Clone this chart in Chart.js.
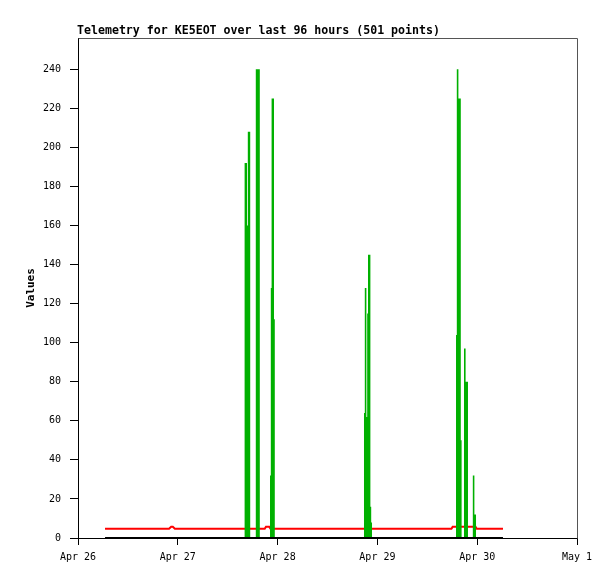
<!DOCTYPE html>
<html>
<head>
<meta charset="utf-8">
<script src="https://cdn.jsdelivr.net/npm/chart.js@4.4.1/dist/chart.umd.min.js"></script>
<style>
html,body{margin:0;padding:0;background:#fff;}
#wrap{width:615px;height:579px;position:relative;}
</style>
</head>
<body>
<div id="wrap"><canvas id="c" width="615" height="579"></canvas></div>
<script>
// Hours since Apr 26 00:00
const tickHours = [0, 24, 48, 72, 96, 120];
const tickLabels = ['Apr 26', 'Apr 27', 'Apr 28', 'Apr 29', 'Apr 30', 'May 1'];
const yTicks = [0, 20, 40, 60, 80, 100, 120, 140, 160, 180, 200, 220, 240];

const redHours  = [6.5, 21.9, 22.4, 22.8, 23.3, 44.9, 45.2, 46.0, 46.3, 89.8, 90.1, 95.6, 95.9, 102.2];
const redValues = [4.7, 4.7, 5.7, 5.7, 4.7, 4.7, 5.7, 5.7, 4.7, 4.7, 5.7, 5.7, 4.7, 4.7];

const blackHours  = [6.5, 102.2];
const blackValues = [0, 0];

const greenHours = [6.5,
  39.97, 40.16, 40.35, 40.55, 40.74, 40.93, 41.12, 41.32, 41.51,
  42.66, 42.85, 43.05, 43.24, 43.43, 43.62, 43.82,
  46.08, 46.27, 46.46, 46.65, 46.85, 47.04, 47.23, 47.42,
  68.68, 68.87, 69.07, 69.26, 69.45, 69.64, 69.84, 70.03, 70.22, 70.41, 70.61, 70.80,
  90.81, 91.00, 91.19, 91.38, 91.58, 91.77, 91.96, 92.15, 92.35,
  92.73, 92.92, 93.11, 93.31, 93.50, 93.69, 93.88,
  94.85, 95.04, 95.23, 95.42, 95.62, 95.81,
  102.2];
const greenValues = [0,
  0, 192, 192, 192, 160, 208, 208, 208, 0,
  0, 240, 240, 240, 240, 240, 0,
  0, 32, 128, 225, 225, 225, 112, 0,
  0, 64, 128, 128, 62, 115, 145, 145, 145, 16, 8, 0,
  0, 104, 240, 240, 225, 225, 225, 50, 0,
  0, 97, 97, 80, 80, 80, 0,
  0, 32, 32, 12, 12, 0,
  0];

const TITLE = 'Telemetry for KE5EOT over last 96 hours (501 points)';
const Y_TITLE = 'Values';

function pts(xs, ys) { return xs.map((x, i) => ({x: x, y: ys[i]})); }

const frame = {
  id: 'frame',
  afterDraw(chart) {
    const {ctx, chartArea: a} = chart;
    ctx.save();
    ctx.strokeStyle = '#555555';
    ctx.lineWidth = 1;
    ctx.beginPath();
    ctx.moveTo(Math.round(a.left) + 0.5, Math.round(a.top) + 0.5);
    ctx.lineTo(Math.round(a.right) + 0.5, Math.round(a.top) + 0.5);
    ctx.lineTo(Math.round(a.right) + 0.5, Math.round(a.bottom) + 0.5);
    ctx.stroke();
    ctx.fillStyle = '#000';
    ctx.font = 'bold 11.6px "DejaVu Sans Mono", monospace';
    ctx.textAlign = 'left';
    ctx.textBaseline = 'middle';
    ctx.fillText(TITLE, 77, 31);
    ctx.translate(31, (a.top + a.bottom) / 2);
    ctx.rotate(-Math.PI / 2);
    ctx.textAlign = 'center';
    ctx.font = 'bold 11px "DejaVu Sans Mono", monospace';
    ctx.fillText(Y_TITLE, 0, 0);
    ctx.restore();
  }
};

const mono = {family: '"DejaVu Sans Mono", monospace', size: 10};

new Chart(document.getElementById('c'), {
  type: 'line',
  data: {
    datasets: [
      {label: 'black', data: pts(blackHours, blackValues), borderColor: '#000000', borderWidth: 2, pointRadius: 0, tension: 0, order: 0},
      {label: 'green', data: pts(greenHours, greenValues), borderColor: 'rgba(0,0,0,0)', borderWidth: 0, backgroundColor: '#00b000', fill: 'origin', stepped: 'middle', pointRadius: 0, tension: 0, order: 1},
      {label: 'red', data: pts(redHours, redValues), borderColor: '#ff0000', borderWidth: 2, pointRadius: 0, tension: 0, order: 2}
    ]
  },
  options: {
    responsive: false,
    animation: false,
    devicePixelRatio: 1,
    layout: {padding: {left: 0, right: 38, top: 38, bottom: 0}},
    plugins: {legend: {display: false}, title: {display: false}, tooltip: {enabled: false}},
    scales: {
      x: {
        type: 'linear', min: 0, max: 120,
        afterBuildTicks(scale) { scale.ticks = tickHours.map(v => ({value: v})); },
        afterFit(scale) { scale.height = 41; },
        ticks: {
          callback: (v) => tickLabels[tickHours.indexOf(v)],
          color: '#000', font: mono, maxRotation: 0, autoSkip: false, padding: 6
        },
        grid: {drawOnChartArea: false, drawTicks: true, tickLength: 7, color: '#000'},
        border: {display: true, color: '#000', width: 1}
      },
      y: {
        type: 'linear', min: 0, max: 256,
        afterBuildTicks(scale) { scale.ticks = yTicks.map(v => ({value: v})); },
        afterFit(scale) { scale.width = 78; },
        ticks: {color: '#000', font: mono, padding: 9},
        grid: {drawOnChartArea: false, drawTicks: true, tickLength: 8, color: '#000'},
        border: {display: true, color: '#000', width: 1}
      }
    }
  },
  plugins: [frame]
});
</script>
</body>
</html>
